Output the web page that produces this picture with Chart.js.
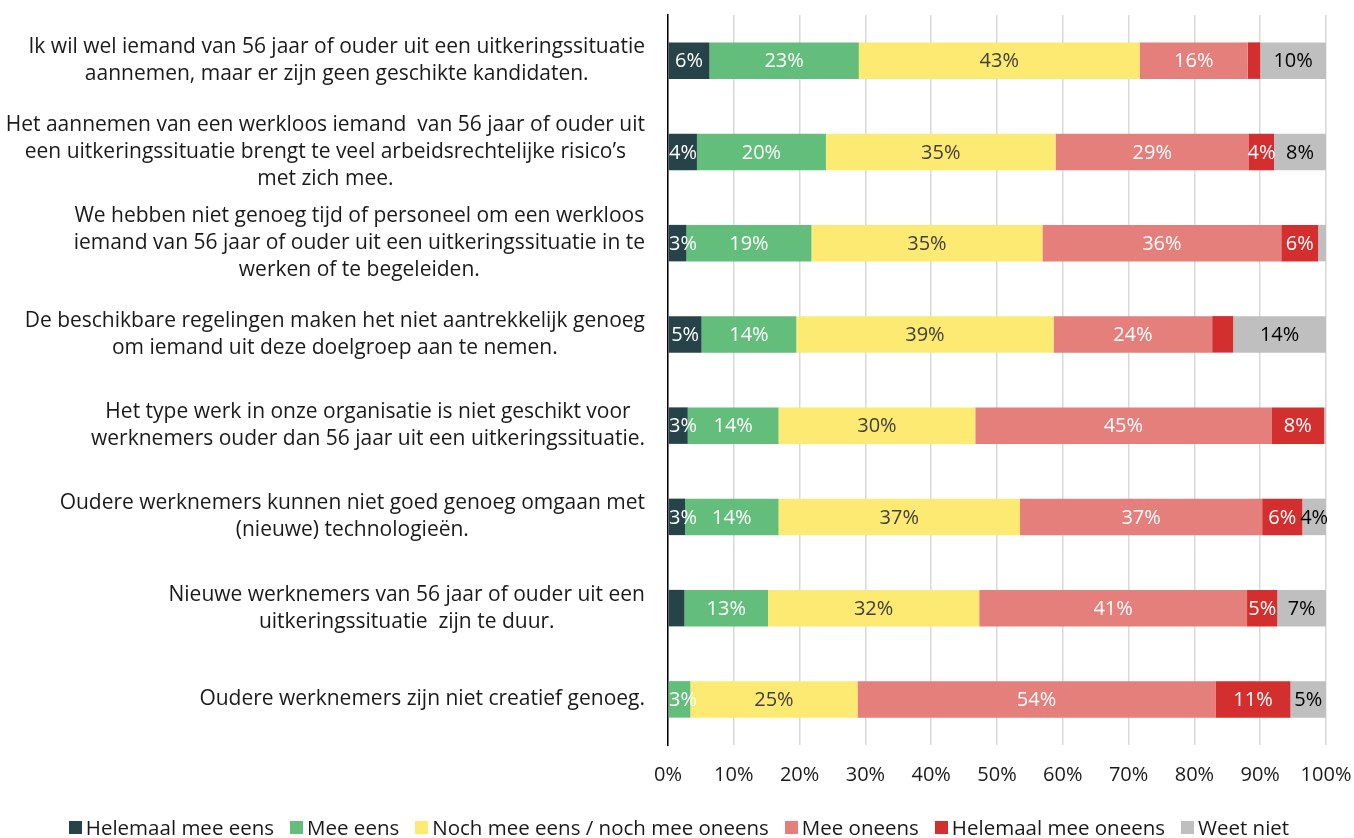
<!doctype html>
<html lang="nl">
<head>
<meta charset="utf-8" />
<title>Belemmeringen bij het aannemen van werkzoekenden van 56 jaar en ouder</title>
<script src="https://cdn.jsdelivr.net/npm/chart.js@4.4.4/dist/chart.umd.min.js"></script>
<style>
  html, body { margin: 0; padding: 0; background: #fff; }
  .wrap { position: relative; width: 1354px; height: 838px; }
  canvas { display: block; }
  .legend {
    position: absolute; left: 0; right: 0; top: 815px;
    display: flex; justify-content: center; padding-left: 4px;
    font: 20.5px 'Open Sans', 'Noto Sans', sans-serif; color: #1a1a1a; line-height: 24px;
  }
  .legend span { display: inline-flex; align-items: center; margin: 0 8px; white-space: pre; }
  .legend i { display: inline-block; width: 13px; height: 13px; margin-right: 4px; }
</style>
</head>
<body>
<div class="wrap">
  <canvas id="chart" width="1354" height="838"></canvas>
  <div class="legend" id="legend"></div>
</div>
<script>
// Stellingen (one entry per bar, split into the lines they are printed on)
const statements = [
  ["Ik wil wel iemand van 56 jaar of ouder uit een uitkeringssituatie", "aannemen, maar er zijn geen geschikte kandidaten."],
  ["Het aannemen van een werkloos iemand  van 56 jaar of ouder uit", "een uitkeringssituatie brengt te veel arbeidsrechtelijke risico\u2019s", "met zich mee."],
  ["We hebben niet genoeg tijd of personeel om een werkloos", "iemand van 56 jaar of ouder uit een uitkeringssituatie in te", "werken of te begeleiden."],
  ["De beschikbare regelingen maken het niet aantrekkelijk genoeg", "om iemand uit deze doelgroep aan te nemen."],
  ["Het type werk in onze organisatie is niet geschikt voor", "werknemers ouder dan 56 jaar uit een uitkeringssituatie."],
  ["Oudere werknemers kunnen niet goed genoeg omgaan met", "(nieuwe) technologie\u00ebn."],
  ["Nieuwe werknemers van 56 jaar of ouder uit een", "uitkeringssituatie  zijn te duur."],
  ["Oudere werknemers zijn niet creatief genoeg."],
];

const seriesNames = [
  "Helemaal mee eens",
  "Mee eens",
  "Noch mee eens / noch mee oneens",
  "Mee oneens",
  "Helemaal mee oneens",
  "Weet niet",
];

// percentages per answer, same order as statements
const helemaalMeeEens = [6.3, 4.4, 2.8, 5.1, 3.0, 2.6, 2.5, 0];
const meeEens = [22.7, 19.6, 19.0, 14.4, 13.8, 14.2, 12.7, 3.4];
const nochNoch = [42.7, 34.9, 35.1, 39.1, 29.9, 36.7, 32.1, 25.4];
const meeOneens = [16.4, 29.4, 36.3, 24.1, 45.0, 36.8, 40.7, 54.4];
const helemaalMeeOneens = [1.9, 3.8, 5.6, 3.2, 8.0, 6.1, 4.6, 11.4];
const weetNiet = [10.0, 7.9, 1.2, 14.1, 0.3, 3.6, 7.4, 5.4];

const xTicks = [0, 10, 20, 30, 40, 50, 60, 70, 80, 90, 100];

// segments whose value label is left off ("series:row")
const hiddenLabels = new Set(["4:0", "5:2", "4:3", "5:4", "0:6", "0:7"]);

const colors = ["#264349", "#63be7b", "#fdea72", "#e57f7c", "#d32f2f", "#bfbfbf"];
const labelColors = ["#ffffff", "#ffffff", "#404040", "#ffffff", "#ffffff", "#000000"];
const FONT = "'Open Sans', 'Noto Sans', sans-serif";
const TEXT = "#1a1a1a";

const values = [helemaalMeeEens, meeEens, nochNoch, meeOneens, helemaalMeeOneens, weetNiet];

// value labels centred in each segment, kept inside the plot on the left
const barLabels = {
  id: "barLabels",
  afterDatasetsDraw(chart) {
    const { ctx, chartArea } = chart;
    ctx.save();
    ctx.font = `20px ${FONT}`;
    ctx.textAlign = "center";
    ctx.textBaseline = "middle";
    chart.data.datasets.forEach((ds, di) => {
      chart.getDatasetMeta(di).data.forEach((bar, i) => {
        const v = ds.data[i];
        if (!v || hiddenLabels.has(di + ":" + i)) return;
        const text = Math.round(v) + "%";
        const half = ctx.measureText(text).width / 2;
        const x = Math.max((bar.x + bar.base) / 2, chartArea.left + half + 1);
        ctx.fillStyle = labelColors[di];
        ctx.fillText(text, x, bar.y + 1);
      });
    });
    ctx.restore();
  },
};

// category text: each block right-aligned to the axis, lines centred inside it
const categoryText = {
  id: "categoryText",
  afterDraw(chart) {
    const { ctx, scales } = chart;
    const right = scales.y.right - 23;
    const lh = 27;
    ctx.save();
    ctx.font = `21px ${FONT}`;
    ctx.fillStyle = TEXT;
    ctx.textAlign = "center";
    ctx.textBaseline = "middle";
    statements.forEach((lines, i) => {
      const w = Math.max(...lines.map((l) => ctx.measureText(l).width));
      const cx = right - w / 2;
      const cy = scales.y.getPixelForValue(i);
      lines.forEach((l, k) => {
        ctx.fillText(l, cx, cy + (k - (lines.length - 1) / 2) * lh);
      });
    });
    ctx.restore();
  },
};

new Chart(document.getElementById("chart"), {
  type: "bar",
  data: {
    labels: statements.map((l) => l.join(" ")),
    datasets: seriesNames.map((name, i) => ({
      label: name,
      data: values[i],
      backgroundColor: colors[i],
      borderWidth: 0,
      barPercentage: 0.4,
      categoryPercentage: 1,
    })),
  },
  options: {
    indexAxis: "y",
    responsive: false,
    animation: false,
    layout: { padding: { top: 15, left: 8, right: 28, bottom: 0 } },
    scales: {
      x: {
        stacked: true,
        min: 0,
        max: 100,
        afterBuildTicks: (s) => { s.ticks = xTicks.map((v) => ({ value: v })); },
        afterFit: (s) => {
          s.height = 93;
          s.paddingLeft = 0;
          s.paddingRight = 0;
        },
        ticks: { callback: (v) => v + "%", color: TEXT, font: { family: FONT, size: 20 }, padding: 18 },
        grid: { color: "#d9d9d9", lineWidth: 1.5, drawTicks: false },
        border: { display: false },
      },
      y: {
        stacked: true,
        afterFit: (s) => { s.width = 660; },
        ticks: { display: false },
        grid: { display: false },
        border: { color: "#000", width: 1.5 },
      },
    },
    plugins: {
      legend: { display: false },
      tooltip: { enabled: false },
    },
  },
  plugins: [barLabels, categoryText],
});

// legend row under the chart
document.getElementById("legend").innerHTML = seriesNames
  .map((n, i) => `<span><i style="background:${colors[i]}"></i>${n}</span>`)
  .join("");
</script>
</body>
</html>
